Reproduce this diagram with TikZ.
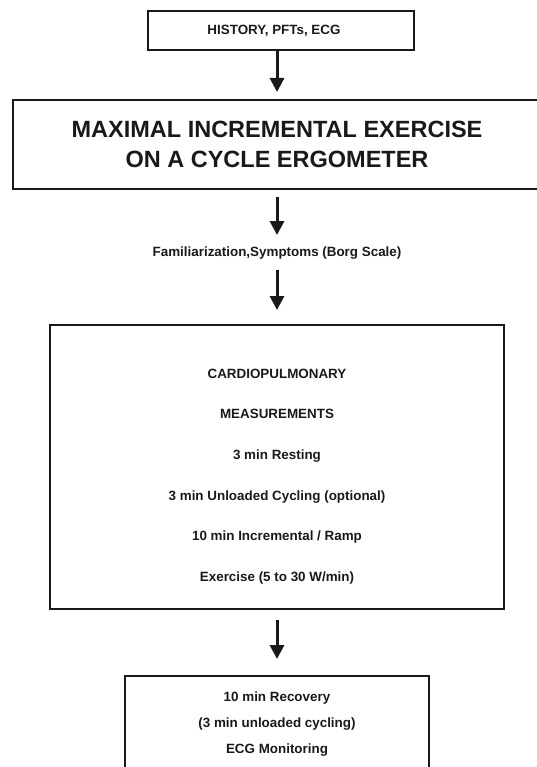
\documentclass[tikz,border=0pt]{standalone}
\usepackage{fontspec}
\setmainfont{Liberation Sans}
\usetikzlibrary{arrows.meta}
\begin{document}
\begin{tikzpicture}[x=1pt,y=-1pt,
  boxstyle/.style={draw=black!90,line width=2pt,rectangle,inner sep=0pt},
  smalltext/.style={font=\fontsize{13.4}{16}\selectfont\bfseries,text=black!90,inner sep=0pt},
  arr/.style={line width=3pt,draw=black!90,-{Triangle[length=14pt,width=14pt]}}]
\useasboundingbox (0,0) rectangle (537,767);
\clip (0,0) rectangle (537,767);
\node[boxstyle,minimum width=266pt,minimum height=39pt] (box1) at (281,30.5) {};
\node[smalltext] (box1text) at (274,30.5) {HISTORY, PFTs, ECG};
\node[boxstyle,minimum width=528pt,minimum height=89pt,align=center,text=black!90,
      font=\fontsize{23.5}{30}\selectfont\bfseries] (box2) at (277,144.5)
      {MAXIMAL INCREMENTAL EXERCISE\\ON A CYCLE ERGOMETER};
\node[smalltext] (fam) at (277,253) {Familiarization,Symptoms (Borg Scale)};
\node[boxstyle,minimum width=454pt,minimum height=284pt] (box3) at (277,467) {};
\node[smalltext,align=center,font=\fontsize{13.4}{40.6}\selectfont\bfseries] (box3text) at (277,476.5)
  {CARDIOPULMONARY\\MEASUREMENTS\\3 min Resting\\3 min Unloaded Cycling (optional)\\10 min Incremental / Ramp\\Exercise (5 to 30 W/min)};
\node[boxstyle,minimum width=304pt,minimum height=130pt] (box4) at (277,741) {};
\node[smalltext,align=center,font=\fontsize{13.4}{26}\selectfont\bfseries] (box4text) at (277,724)
  {10 min Recovery\\(3 min unloaded cycling)\\ECG Monitoring};
\draw[arr,shorten >=7pt] (box1.south -| box2.north) -- (box2.north);
\draw[arr,shorten <=7pt,shorten >=11.5pt] (box2.south) -- (fam.north);
\draw[arr,shorten <=10.5pt,shorten >=14pt] (fam.south) -- (box3.north);
\draw[arr,shorten <=10pt,shorten >=16pt] (box3.south) -- (box4.north);
\end{tikzpicture}
\end{document}
